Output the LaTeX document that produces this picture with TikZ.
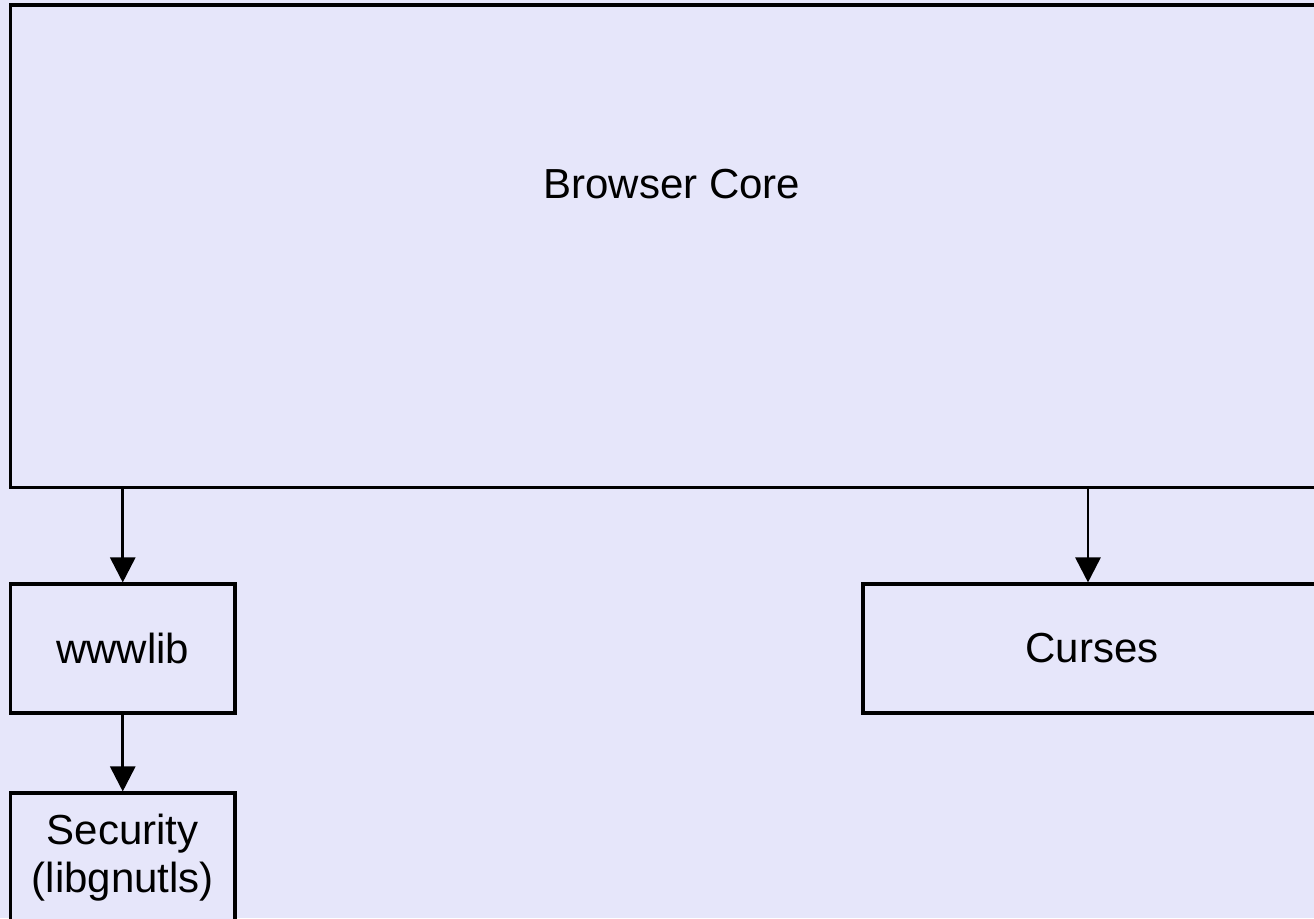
\documentclass[tikz,border=0pt]{standalone}
\usepackage{fontspec}
\setmainfont{Liberation Sans}
\usepackage{xcolor}
\usepackage{tikz}
\usetikzlibrary{arrows.meta, positioning}
\definecolor{paneback}{RGB}{230,230,250}
\tikzset{
  >={Triangle[length=12.5pt,width=12.5pt]},
  % moduli dell'architettura
  module/.style={draw=black,line width=1.55pt,fill=paneback,inner sep=0pt,
                 align=center,font=\fontsize{21}{24}\selectfont},
  % dipendenze
  uses/.style={->,line width=1.35pt,black}
}

\begin{document}
\begin{tikzpicture}[x=0.5pt,y=-0.5pt]
  \fill[paneback] (0,0) rectangle (1314,918);
  \useasboundingbox (0,0) rectangle (1314,918);
  % nucleo del browser
  \node[module,minimum width=661.25pt,minimum height=241.25pt,
        label={[name=corelabel,anchor=center,yshift=30.9pt,
                font=\fontsize{21}{24}\selectfont]center:Browser Core}]
        (core) at (671.75,246.25) {};
  % librerie
  \node[module,minimum width=112.25pt,minimum height=64.5pt] (wwwlib) at (122.75,648.5) {wwwlib};
  \node[module,minimum width=229pt,minimum height=64.5pt] (curses) at (1092,648.5) {Curses};
  \node[module,minimum width=112.25pt,minimum height=64.5pt] (security) at (122.75,857.5) {Security\\(libgnutls)};
  % frecce
  \draw[uses] (wwwlib.north |- core.south) -- (wwwlib.north);
  \draw[uses] ([xshift=-2pt]curses.north |- core.south) -- ([xshift=-2pt]curses.north);
  \draw[uses] (wwwlib.south) -- (security.north);
\end{tikzpicture}
\end{document}
